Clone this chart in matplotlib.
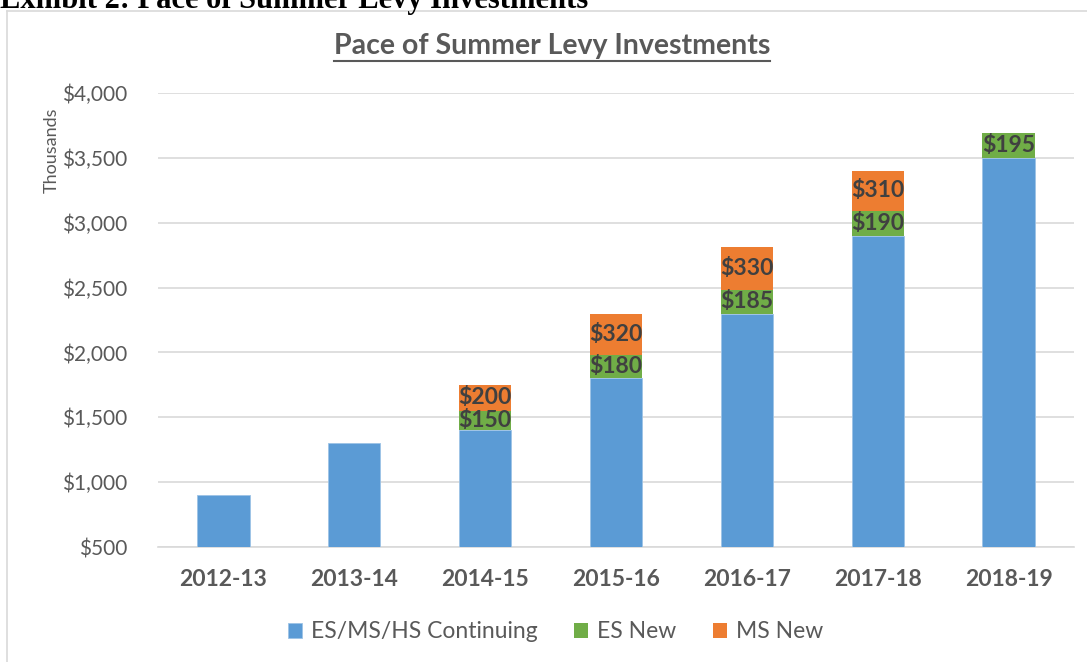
import matplotlib.pyplot as plt
from matplotlib.ticker import FuncFormatter
from matplotlib.lines import Line2D

plt.rcParams['font.family'] = ['Lato', 'DejaVu Sans']

years = ['2012-13', '2013-14', '2014-15', '2015-16', '2016-17', '2017-18', '2018-19']
continuing = [900, 1300, 1400, 1800, 2300, 2900, 3500]
es_new = [0, 0, 150, 180, 185, 190, 195]
ms_new = [0, 0, 200, 320, 330, 310, 0]

c_blue = '#5B9BD5'
c_green = '#70AD47'
c_orange = '#ED7D31'
grey = '#595959'

fig = plt.figure(figsize=(10.87, 6.62), dpi=100)
ax = fig.add_axes([0.1454, 0.1737, 0.8426, 0.6858])

x = range(len(years))
w = 0.4
ax.bar(x, continuing, w, color=c_blue, edgecolor='#9DC3E6', linewidth=0.6,
       label='ES/MS/HS Continuing', zorder=3)
base2 = [a for a in continuing]
ax.bar(x, es_new, w, bottom=base2, color=c_green, label='ES New', zorder=3)
base3 = [a + b for a, b in zip(continuing, es_new)]
ax.bar(x, ms_new, w, bottom=base3, color=c_orange, label='MS New', zorder=3)

# data labels
for i in x:
    if es_new[i]:
        ax.text(i, base2[i] + es_new[i] / 2, f'${es_new[i]}', ha='center', va='center',
                fontsize=16.5, fontweight='bold', color='#404040', zorder=4)
    if ms_new[i]:
        ax.text(i, base3[i] + ms_new[i] / 2, f'${ms_new[i]}', ha='center', va='center',
                fontsize=16.5, fontweight='bold', color='#404040', zorder=4)

ax.set_ylim(500, 4000)
ax.set_xlim(-0.5, 6.5)
ax.set_yticks(range(500, 4001, 500))
ax.yaxis.set_major_formatter(FuncFormatter(lambda v, p: f'${v:,.0f}'))
ax.set_xticks(list(x))
ax.set_xticklabels(years, fontweight='bold', fontsize=16.5, color=grey)
ax.tick_params(axis='y', labelsize=15, labelcolor=grey, length=0, pad=22)
ax.tick_params(axis='x', length=0, pad=16)
ax.grid(axis='y', color='#D9D9D9', linewidth=1.2, zorder=0)
for s in ['top', 'right', 'left']:
    ax.spines[s].set_visible(False)
ax.spines['bottom'].set_color('#D9D9D9')
ax.spines['bottom'].set_linewidth(1.2)

fig.text(0.0475, 1 - 150 / 662, 'Thousands', rotation=90, ha='center', va='center',
         fontsize=13, color=grey)

title = fig.text(552 / 1087, 1 - 46 / 662, 'Pace of Summer Levy Investments', ha='center',
                 va='center', fontsize=20.5, fontweight='bold', color=grey)
# underline under the title text
fig.canvas.draw()
bb = title.get_window_extent().transformed(fig.transFigure.inverted())
fig.add_artist(Line2D([bb.x0, bb.x1], [1 - 61 / 662, 1 - 61 / 662], color=grey, linewidth=1.5))

fig.text(0.0, 1 - 8 / 662, 'Exhibit 2: Pace of Summer Levy Investments', ha='left',
         va='baseline', fontsize=22, fontweight='bold', color='black',
         family='Liberation Serif')

# chart border
fig.add_artist(Line2D([7 / 1087, 7 / 1087], [0, 1 - 11 / 662], color='#D9D9D9', linewidth=1.2))
fig.add_artist(Line2D([7 / 1087, 1], [1 - 11 / 662, 1 - 11 / 662], color='#D9D9D9', linewidth=1.2))

fig.legend(loc='center', bbox_to_anchor=(0.511, 1 - 632 / 662), ncol=3, frameon=False,
           fontsize=16.5, labelcolor=grey, handlelength=0.6, handleheight=0.6,
           columnspacing=1.6, handletextpad=0.4)

fig.savefig('out.png', dpi=100)
